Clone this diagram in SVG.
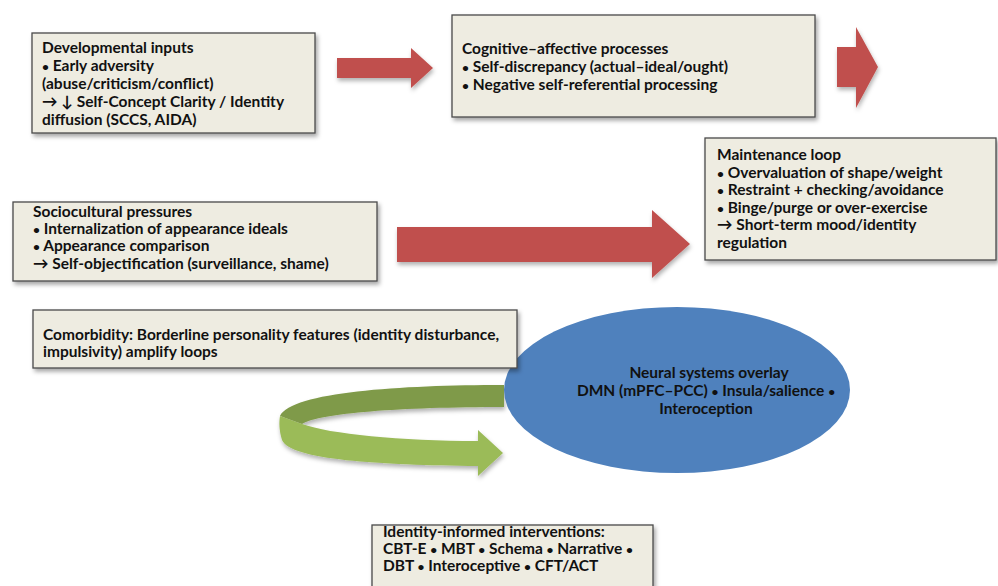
<svg xmlns="http://www.w3.org/2000/svg" width="998" height="586" viewBox="0 0 998 586">
<defs>
<filter id="sh" x="-10%" y="-10%" width="130%" height="140%">
<feDropShadow dx="2" dy="3" stdDeviation="2" flood-color="#000" flood-opacity="0.35"/>
</filter>
<filter id="sh2" x="-10%" y="-10%" width="130%" height="140%">
<feDropShadow dx="1" dy="3" stdDeviation="2" flood-color="#000" flood-opacity="0.3"/>
</filter>
</defs>
<style>
.box{fill:#eeece1;stroke:#4a4a4a;stroke-width:1.3;filter:url(#sh)}
.t{font-family:Lato,"Liberation Sans",sans-serif;font-weight:bold;font-size:15.5px;fill:#111}
.b{font-size:12px}
.c{text-anchor:middle}
.red{fill:#c0504d;filter:url(#sh2)}
</style>
<rect width="998" height="586" fill="#fff"/>
<g id="connectors">
<path class="red" d="M337,58 L411,58 L411,48 L433,68 L411,88 L411,78 L337,78 Z"/>
<path class="red" d="M837,47 L856,47 L856,27 L878,67 L856,108 L856,87 L837,87 Z"/>
<path class="red" d="M397,227 L652,227 L652,210 L690,244 L652,278 L652,262 L397,262 Z"/>
<g id="loop" filter="url(#sh2)">
<path fill="#7f9a48" d="M504,385 C400,385 292,392 280,416 L302,424 C320,413 400,407 504,407 Z"/>
<path fill="#9bbb59" d="M280,416 L302,424 C330,434 400,441 478,441 L478,430 L503,453 L478,476 L478,466 C380,465 290,460 282,440 C279,430 279,422 280,416 Z"/>
</g>
</g>
<g id="developmental">
<rect class="box" x="32" y="33" width="283" height="100"/>
<text class="t" x="42" y="53">Developmental inputs</text>
<text class="t" x="42" y="71"><tspan class="b">•</tspan> Early adversity</text>
<text class="t" x="42" y="89">(abuse/criticism/conflict)</text>
<text class="t" x="42" y="107">→ ↓ Self-Concept Clarity / Identity</text>
<text class="t" x="42" y="125">diffusion (SCCS, AIDA)</text>
</g>
<g id="cognitive">
<rect class="box" x="452" y="15" width="363" height="102"/>
<text class="t" x="462" y="54">Cognitive–affective processes</text>
<text class="t" x="462" y="72"><tspan class="b">•</tspan> Self-discrepancy (actual–ideal/ought)</text>
<text class="t" x="462" y="90"><tspan class="b">•</tspan> Negative self-referential processing</text>
</g>
<g id="maintenance">
<rect class="box" x="705" y="138" width="291" height="122"/>
<text class="t" x="717" y="160">Maintenance loop</text>
<text class="t" x="717" y="178"><tspan class="b">•</tspan> Overvaluation of shape/weight</text>
<text class="t" x="717" y="195"><tspan class="b">•</tspan> Restraint + checking/avoidance</text>
<text class="t" x="717" y="213"><tspan class="b">•</tspan> Binge/purge or over-exercise</text>
<text class="t" x="717" y="230">→ Short-term mood/identity</text>
<text class="t" x="717" y="248">regulation</text>
</g>
<g id="sociocultural">
<rect class="box" x="13" y="202" width="364" height="79"/>
<text class="t" x="33" y="217">Sociocultural pressures</text>
<text class="t" x="33" y="234"><tspan class="b">•</tspan> Internalization of appearance ideals</text>
<text class="t" x="33" y="251"><tspan class="b">•</tspan> Appearance comparison</text>
<text class="t" x="33" y="269">→ Self-objectification (surveillance, shame)</text>
</g>
<g id="neural">
<ellipse cx="677" cy="390" rx="173" ry="83" fill="#4f81bd"/>
<text class="t c" x="709" y="378">Neural systems overlay</text>
<text class="t c" x="706" y="396">DMN (mPFC–PCC) <tspan class="b">•</tspan> Insula/salience <tspan class="b">•</tspan></text>
<text class="t c" x="706" y="414">Interoception</text>
</g>
<g id="comorbidity">
<rect class="box" x="33" y="310" width="484" height="58"/>
<text class="t" x="43" y="340">Comorbidity: Borderline personality features (identity disturbance,</text>
<text class="t" x="43" y="357">impulsivity) amplify loops</text>
</g>
<g id="interventions">
<rect class="box" x="372" y="525" width="281" height="70"/>
<text class="t" x="383" y="537">Identity-informed interventions:</text>
<text class="t" x="383" y="554">CBT-E <tspan class="b">•</tspan> MBT <tspan class="b">•</tspan> Schema <tspan class="b">•</tspan> Narrative <tspan class="b">•</tspan></text>
<text class="t" x="383" y="571">DBT <tspan class="b">•</tspan> Interoceptive <tspan class="b">•</tspan> CFT/ACT</text>
</g>
</svg>
